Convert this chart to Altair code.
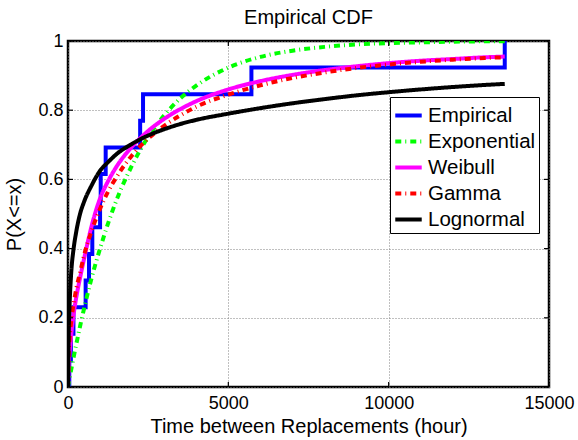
import altair as alt
import pandas as pd

# ---- data ----
SERIES = ["Empirical", "Exponential", "Weibull", "Gamma", "Lognormal"]
COLORS = ["#0000ff", "#00ff00", "#ff00ff", "#ff0000", "#000000"]
DASHES = [[1, 0], [6, 4, 1, 4], [1, 0], [6, 4, 1, 4], [1, 0]]
WIDTHS = [4, 4, 5, 4, 4]

# empirical CDF step locations (13 observations)
emp_t = [40, 90, 170, 550, 655, 758, 1000, 1020, 1175, 2250, 2340, 5720, 13620]
emp_p = [1/13, 2/13, 3/13, 4/13, 5/13, 6/13, 7/13, 8/13, 9/13, 10/13, 11/13, 12/13, 1.0]

# fitted CDFs read at common time points
fit_t = [0, 25, 50, 100, 175, 250, 375, 500, 750, 1000, 1250, 1500, 2000, 2500,
         3000, 3500, 4000, 5000, 6000, 7000, 8000, 9000, 10000, 11000, 12000,
         13000, 13620]
exp_p = [0, 0.013, 0.025, 0.05, 0.086, 0.12, 0.175, 0.226, 0.32, 0.40, 0.473,
         0.537, 0.641, 0.723, 0.785, 0.834, 0.871, 0.923, 0.954, 0.972, 0.983,
         0.990, 0.994, 0.996, 0.998, 0.999, 0.999]
wei_p = [0, 0.07, 0.10, 0.15, 0.21, 0.255, 0.315, 0.37, 0.47, 0.545, 0.595,
         0.635, 0.695, 0.74, 0.775, 0.803, 0.826, 0.86, 0.884, 0.902, 0.916,
         0.927, 0.936, 0.943, 0.948, 0.953, 0.955]
gam_p = [0, 0.10, 0.14, 0.19, 0.24, 0.28, 0.33, 0.38, 0.455, 0.515, 0.565,
         0.605, 0.67, 0.718, 0.755, 0.785, 0.81, 0.845, 0.872, 0.893, 0.909,
         0.922, 0.932, 0.940, 0.946, 0.951, 0.953]
logn_p = [0, 0.17, 0.24, 0.33, 0.40, 0.445, 0.50, 0.535, 0.585, 0.625, 0.65,
          0.672, 0.703, 0.727, 0.745, 0.76, 0.772, 0.79, 0.806, 0.82, 0.832,
          0.843, 0.852, 0.86, 0.867, 0.873, 0.876]

X_TICKS = [0, 5000, 10000, 15000]
Y_TICKS = [0, 0.2, 0.4, 0.6, 0.8, 1.0]
X_MAX = 15000

# ---- build tables ----
emp_df = pd.DataFrame({"t": [emp_t[0]] + emp_t, "p": [0.0] + emp_p, "series": "Empirical"})
fits = {"Exponential": exp_p, "Weibull": wei_p, "Gamma": gam_p, "Lognormal": logn_p}
fit_dfs = {k: pd.DataFrame({"t": fit_t, "p": v, "series": k}) for k, v in fits.items()}

xscale = alt.Scale(domain=[0, X_MAX], nice=False, zero=False)
yscale = alt.Scale(domain=[0, 1], nice=False)

legend = alt.Legend(
    title=None, orient="none", legendX=322, legendY=56,
    symbolType="stroke", symbolSize=700, symbolStrokeWidth=4,
    labelFont="Liberation Sans", labelFontSize=20.5, labelColor="black",
    labelOffset=4, rowPadding=0, padding=3,
    strokeColor="black", fillColor="white",
)

def enc(chart):
    return chart.encode(
        x=alt.X("t:Q", scale=xscale,
                axis=alt.Axis(values=X_TICKS, format="d", title="Time between Replacements (hour)",
                              labelPadding=7, titlePadding=4, labelFlush=False)),
        y=alt.Y("p:Q", scale=yscale,
                axis=alt.Axis(values=Y_TICKS, format="~g", title="P(X<=x)",
                              labelPadding=5, titlePadding=13, labelFlush=False)),
        color=alt.Color("series:N", scale=alt.Scale(domain=SERIES, range=COLORS), legend=legend),
        strokeDash=alt.StrokeDash("series:N", scale=alt.Scale(domain=SERIES, range=DASHES), legend=legend),
        strokeWidth=alt.StrokeWidth("series:N", scale=alt.Scale(domain=SERIES, range=WIDTHS), legend=None),
    )

layers = [enc(alt.Chart(emp_df).mark_line(interpolate="step-after", clip=True))]
for name in ["Exponential", "Weibull", "Gamma", "Lognormal"]:
    layers.append(enc(alt.Chart(fit_dfs[name]).mark_line(interpolate="monotone", clip=True)))

# inward tick marks (MATLAB style)
tick_len_x = X_MAX * 5 / 481
tick_len_y = 5 / 346
xt = pd.DataFrame({"t": X_TICKS * 2,
                   "p": [0.0] * len(X_TICKS) + [1 - tick_len_y] * len(X_TICKS),
                   "p2": [tick_len_y] * len(X_TICKS) + [1.0] * len(X_TICKS)})
yt = pd.DataFrame({"t": [0.0] * len(Y_TICKS) + [X_MAX - tick_len_x] * len(Y_TICKS),
                   "t2": [tick_len_x] * len(Y_TICKS) + [X_MAX] * len(Y_TICKS),
                   "p": Y_TICKS * 2})
xtick_layer = alt.Chart(xt).mark_rule(color="black", strokeWidth=1.2).encode(
    x=alt.X("t:Q", scale=xscale), y=alt.Y("p:Q", scale=yscale), y2="p2:Q")
ytick_layer = alt.Chart(yt).mark_rule(color="black", strokeWidth=1.2).encode(
    x=alt.X("t:Q", scale=xscale), x2="t2:Q", y=alt.Y("p:Q", scale=yscale))

chart = alt.layer(*layers, xtick_layer, ytick_layer).properties(
    width=481, height=346,
    title=alt.Title("Empirical CDF", font="Liberation Sans", fontSize=20,
                    fontWeight="normal", color="black", anchor="middle", offset=4),
    autosize=alt.AutoSizeParams(type="none"),
    padding={"left": 68, "top": 41, "right": 29, "bottom": 53},
).configure_view(
    stroke="black", strokeWidth=2.5
).configure_axis(
    grid=True, gridColor="#808080", gridDash=[1, 2], gridWidth=1,
    domain=False, ticks=False,
    labelFont="Liberation Sans", labelFontSize=18, labelColor="black",
    titleFont="Liberation Sans", titleFontSize=20, titleFontWeight="normal", titleColor="black",
)

chart.save("out.html", embed_options={"renderer": "svg", "actions": False})
